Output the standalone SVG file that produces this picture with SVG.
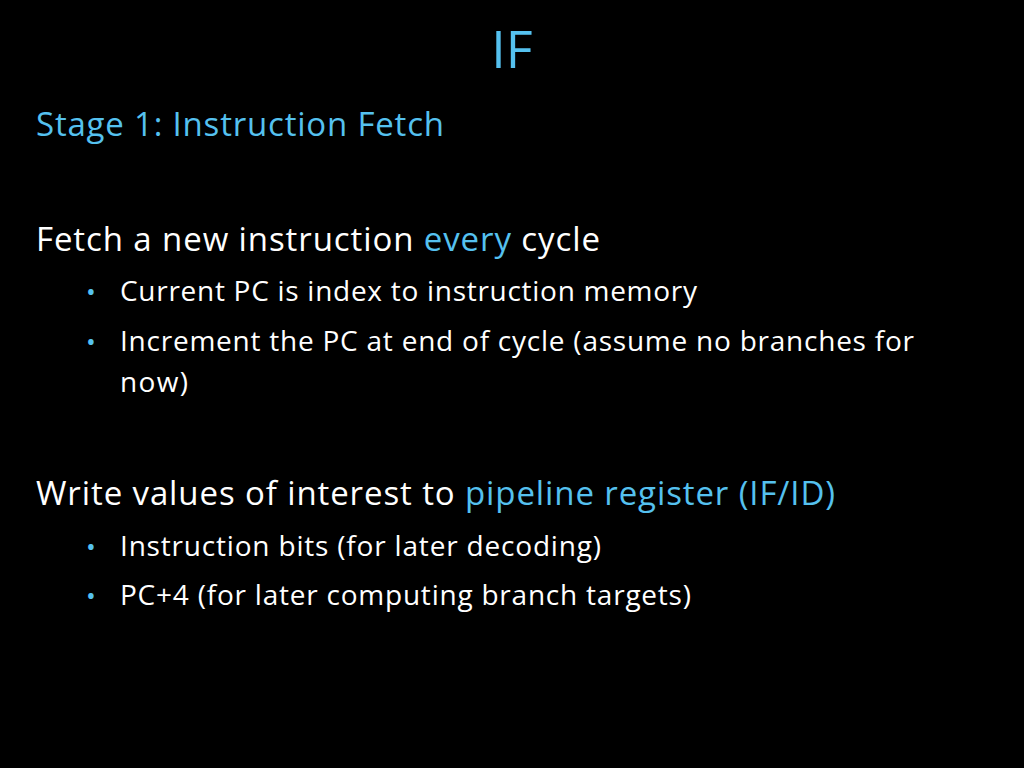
<svg xmlns="http://www.w3.org/2000/svg" width="1024" height="768" viewBox="0 0 1024 768">
<style>
text{font-family:"Open Sans",Lato,sans-serif;fill:#fff}
.b{fill:#55c1ef}
.h{font-size:33px}
.s{font-size:28px}
.d{font-size:26px}
</style>
<rect width="1024" height="768" fill="#000"/>
<text x="512" y="68" text-anchor="middle" class="b" font-size="52">IF</text>
<text x="36" y="136" class="b h" textLength="408">Stage 1: Instruction Fetch</text>
<text x="36" y="251" class="h" textLength="564">Fetch a new instruction <tspan class="b">every</tspan> cycle</text>
<text x="86" y="301" class="d b">•</text><text x="120" y="301" class="s" textLength="577">Current PC is index to instruction memory</text>
<text x="86" y="351" class="d b">•</text><text x="120" y="351" class="s" textLength="794">Increment the PC at end of cycle (assume no branches for</text>
<text x="120" y="392" class="s" textLength="68">now)</text>
<text x="36" y="505" class="h" textLength="799">Write values of interest to <tspan class="b">pipeline register (IF/ID)</tspan></text>
<text x="86" y="556" class="d b">•</text><text x="120" y="556" class="s" textLength="481">Instruction bits (for later decoding)</text>
<text x="86" y="605" class="d b">•</text><text x="120" y="605" class="s" textLength="571">PC+4 (for later computing branch targets)</text>
</svg>
